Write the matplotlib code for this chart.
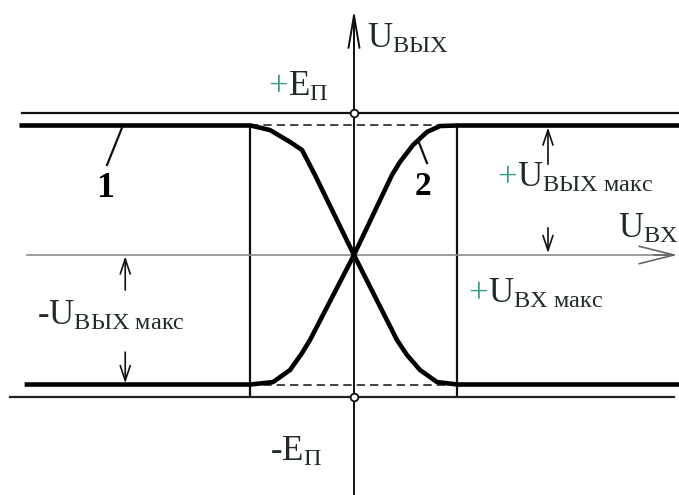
import matplotlib.pyplot as plt

plt.rcParams['font.family'] = ['Liberation Serif', 'DejaVu Serif']
plt.rcParams['mathtext.fontset'] = 'custom'
plt.rcParams['mathtext.rm'] = 'Liberation Serif'
plt.rcParams['mathtext.it'] = 'Liberation Serif:italic'

# Levels in units of U_вых макс (vertical) and U_вх макс (horizontal)
E_supply = 1.1     # supply rails +E_П / -E_П
U_out_max = 1.0    # saturation level
U_in_max = 1.0     # input range of the linear part

# Characteristic 1 (inverting input), left end to right end
curve1_x = [-3.21, -1.0, -0.812, -0.618, -0.502, -0.377, 0.0, 0.415, 0.512, 0.638, 0.802, 1.0, 3.14]
curve1_y = [1.0, 1.0, 0.965, 0.873, 0.811, 0.618, 0.0, -0.656, -0.772, -0.888, -0.981, -1.0, -1.0]

# Characteristic 2 (non-inverting input)
curve2_x = [-3.16, -1.0, -0.783, -0.618, -0.502, -0.425, 0.0, 0.367, 0.444, 0.570, 0.705, 0.831, 1.0, 3.14]
curve2_y = [-1.0, -1.0, -0.981, -0.888, -0.757, -0.656, 0.0, 0.618, 0.718, 0.849, 0.950, 0.996, 1.0, 1.0]

text_col = '#1e2b28'  # dark lettering
plus_col = '#3a9a88'  # teal plus signs
fs = 25

fig = plt.figure(figsize = (6.79, 4.95), dpi = 100)
ax = fig.add_axes([0, 0, 1, 1])
ax.set_xlim(-3.42, 3.14)
ax.set_ylim(-1.853, 1.969)
ax.axis('off')

# Supply rails
ax.plot([-3.21, 3.14], [E_supply, E_supply], color = '#111111', lw = 1.6)
ax.plot([-3.32, 3.09], [-E_supply, -E_supply], color = '#222222', lw = 1.6)

# Dashed saturation levels inside the linear region
ax.plot([-U_in_max, U_in_max], [U_out_max, U_out_max], color = '#222222', lw = 1.2, dashes = (5, 3))
ax.plot([-U_in_max, U_in_max], [-U_out_max, -U_out_max], color = '#222222', lw = 1.2, dashes = (5, 3))

# Borders of the input range
for xv in (-U_in_max, U_in_max):
    ax.plot([xv, xv], [U_out_max, -1.08], color = '#111111', lw = 1.6)

# Axes of the diagram
ax.plot([-3.16, 3.05], [0, 0], color = '#8a8a8a', lw = 1.2)
ax.annotate('', xy = (3.125, 0), xytext = (2.9, 0),
            arrowprops = dict(arrowstyle = '->,head_length=1.4,head_width=0.35',
                              color = '#666666', lw = 1.2, mutation_scale = 18,
                              shrinkA = 0, shrinkB = 0))
ax.plot([0, 0], [-1.853, 1.75], color = '#111111', lw = 1.4)
ax.annotate('', xy = (0, 1.895), xytext = (0, 1.6),
            arrowprops = dict(arrowstyle = '->,head_length=1.3,head_width=0.22',
                              color = '#111111', lw = 1.4, mutation_scale = 18,
                              shrinkA = 0, shrinkB = 0))

# Transfer characteristics
ax.plot(curve1_x, curve1_y, color = 'black', lw = 3.3, solid_joinstyle = 'round')
ax.plot(curve2_x, curve2_y, color = 'black', lw = 3.3, solid_joinstyle = 'round')

# Rail points on the vertical axis
ax.plot([0, 0], [E_supply, -E_supply], 'o', ms = 5.5, mfc = 'white', mec = '#111111', mew = 1.3)

# Dimension arrows for U_вых макс
arrow_kw = dict(arrowstyle = '->,head_length=0.6,head_width=0.2', color = '#111111',
                lw = 1.2, mutation_scale = 18, shrinkA = 0, shrinkB = 0)
ax.annotate('', xy = (1.874, 0.985), xytext = (1.874, 0.70), arrowprops = arrow_kw)
ax.annotate('', xy = (1.874, 0.015), xytext = (1.874, 0.21), arrowprops = arrow_kw)
ax.annotate('', xy = (-2.21, -0.01), xytext = (-2.21, -0.27), arrowprops = arrow_kw)
ax.annotate('', xy = (-2.21, -0.99), xytext = (-2.21, -0.75), arrowprops = arrow_kw)

# Curve numbers with leader lines
ax.plot([-2.242, -2.386], [0.981, 0.695], color = '#111111', lw = 1.6)
ax.plot([0.618, 0.705], [0.888, 0.710], color = '#111111', lw = 1.6)
ax.text(-2.406, 0.448, '1', fontsize = 26, fontweight = 'bold', ha = 'center', va = 'baseline')
ax.text(0.667, 0.463, '2', fontsize = 24, fontweight = 'bold', ha = 'center', va = 'baseline')

# Labels
def label(x, y, body, plus = False):
    if plus:
        ax.text(x - 0.19, y, '+', fontsize = fs, color = plus_col, ha = 'left', va = 'baseline')
    ax.text(x, y, body, fontsize = fs, color = text_col, ha = 'left', va = 'baseline')

label(-0.638, 1.228, r'$\mathrm{E}_{\mathrm{П}}$', plus = True)
label(-0.81, -1.591, r'-$\mathrm{E}_{\mathrm{П}}$')
label(0.126, 1.598, r'$\mathrm{U}_{\mathrm{ВЫХ}}$')
label(2.551, 0.131, r'$\mathrm{U}_{\mathrm{ВХ}}$')
label(1.575, 0.525, r'$\mathrm{U}_{\mathrm{ВЫХ\ макс}}$', plus = True)
label(1.295, -0.371, r'$\mathrm{U}_{\mathrm{ВХ\ макс}}$', plus = True)
label(-3.063, -0.541, r'-$\mathrm{U}_{\mathrm{ВЫХ\ макс}}$')

fig.savefig('out.png', dpi = 100)
